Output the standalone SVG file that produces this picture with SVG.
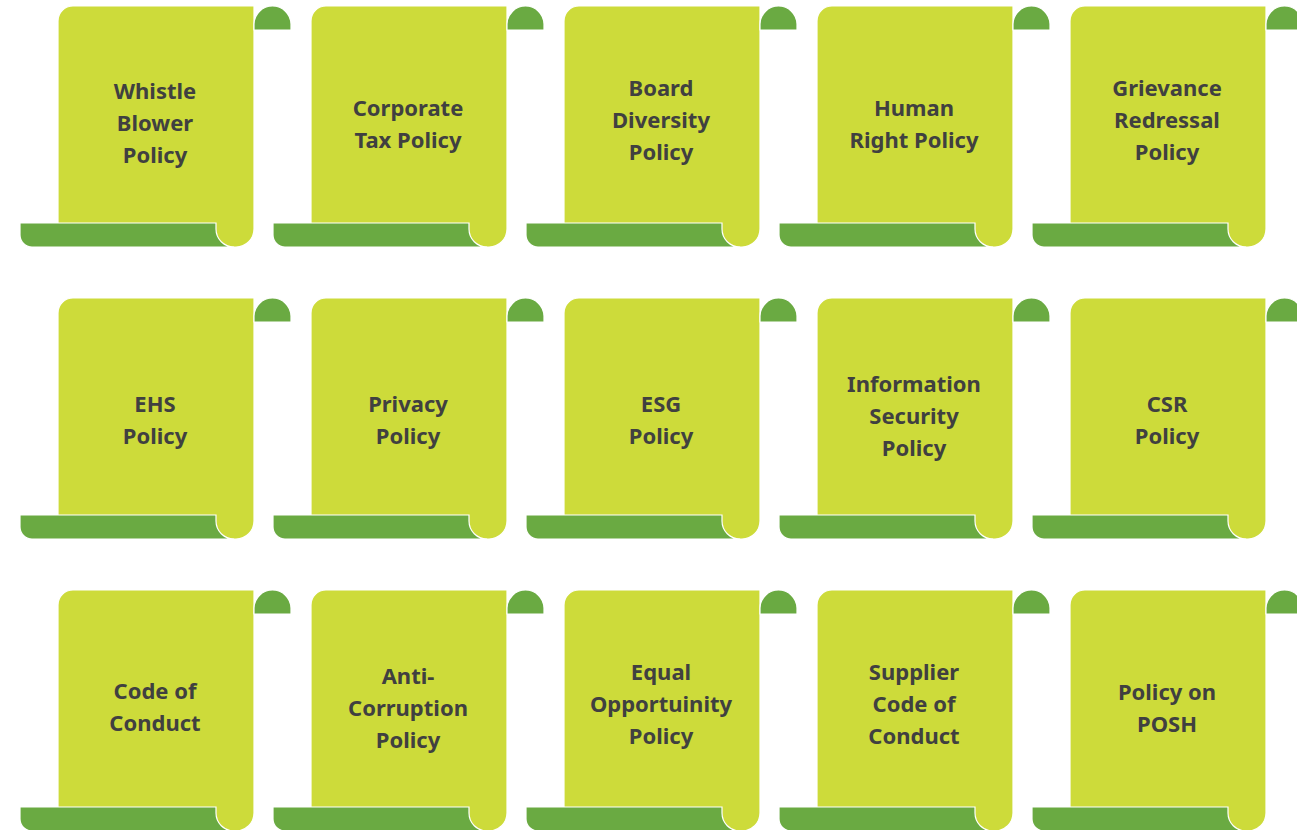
<svg xmlns="http://www.w3.org/2000/svg" xmlns:xlink="http://www.w3.org/1999/xlink" width="1297" height="830" viewBox="0 0 1297 830">
  <style>
    .body { fill: #CDDB3A; stroke: #ffffff; stroke-width: 1.2; }
    .roll { fill: #6AAA42; stroke: #ffffff; stroke-width: 1.2; }
    .lbl { font-family: "Noto Sans", "DejaVu Sans", sans-serif; font-weight: bold; font-size: 22px; fill: #404040; text-anchor: middle; }
  </style>
  <defs>
    <!-- one scroll, local origin at the top-left of the sheet -->
    <g id="scroll">
      <path class="body" d="M15,0 H196 V223 A18,18 0 0 1 178,241 H0 V15 A15,15 0 0 1 15,0 Z"/>
      <path class="roll" d="M196,24 V18 A18.5,18.5 0 0 1 214.5,0 A18.5,18.5 0 0 1 233,18 V24 Z"/>
      <path class="roll" d="M-38,217 H158 V223 A18,18 0 0 0 176,241 H-26 A12,12 0 0 1 -38,229 Z"/>
    </g>
  </defs>

  <!-- row 1 -->
  <g id="whistle-blower">
    <use xlink:href="#scroll" x="58" y="6"/>
    <text class="lbl" x="155" y="99">Whistle</text>
    <text class="lbl" x="155" y="131">Blower</text>
    <text class="lbl" x="155" y="163">Policy</text>
  </g>
  <g id="corporate-tax">
    <use xlink:href="#scroll" x="311" y="6"/>
    <text class="lbl" x="408" y="116">Corporate</text>
    <text class="lbl" x="408" y="148">Tax Policy</text>
  </g>
  <g id="board-diversity">
    <use xlink:href="#scroll" x="564" y="6"/>
    <text class="lbl" x="661" y="96">Board</text>
    <text class="lbl" x="661" y="128">Diversity</text>
    <text class="lbl" x="661" y="160">Policy</text>
  </g>
  <g id="human-right">
    <use xlink:href="#scroll" x="817" y="6"/>
    <text class="lbl" x="914" y="116">Human</text>
    <text class="lbl" x="914" y="148">Right Policy</text>
  </g>
  <g id="grievance">
    <use xlink:href="#scroll" x="1070" y="6"/>
    <text class="lbl" x="1167" y="96">Grievance</text>
    <text class="lbl" x="1167" y="128">Redressal</text>
    <text class="lbl" x="1167" y="160">Policy</text>
  </g>

  <!-- row 2 -->
  <g id="ehs">
    <use xlink:href="#scroll" x="58" y="298"/>
    <text class="lbl" x="155" y="412">EHS</text>
    <text class="lbl" x="155" y="444">Policy</text>
  </g>
  <g id="privacy">
    <use xlink:href="#scroll" x="311" y="298"/>
    <text class="lbl" x="408" y="412">Privacy</text>
    <text class="lbl" x="408" y="444">Policy</text>
  </g>
  <g id="esg">
    <use xlink:href="#scroll" x="564" y="298"/>
    <text class="lbl" x="661" y="412">ESG</text>
    <text class="lbl" x="661" y="444">Policy</text>
  </g>
  <g id="information-security">
    <use xlink:href="#scroll" x="817" y="298"/>
    <text class="lbl" x="914" y="392">Information</text>
    <text class="lbl" x="914" y="424">Security</text>
    <text class="lbl" x="914" y="456">Policy</text>
  </g>
  <g id="csr">
    <use xlink:href="#scroll" x="1070" y="298"/>
    <text class="lbl" x="1167" y="412">CSR</text>
    <text class="lbl" x="1167" y="444">Policy</text>
  </g>

  <!-- row 3 -->
  <g id="code-of-conduct">
    <use xlink:href="#scroll" x="58" y="590"/>
    <text class="lbl" x="155" y="699">Code of</text>
    <text class="lbl" x="155" y="731">Conduct</text>
  </g>
  <g id="anti-corruption">
    <use xlink:href="#scroll" x="311" y="590"/>
    <text class="lbl" x="408" y="684">Anti-</text>
    <text class="lbl" x="408" y="716">Corruption</text>
    <text class="lbl" x="408" y="748">Policy</text>
  </g>
  <g id="equal-opportunity">
    <use xlink:href="#scroll" x="564" y="590"/>
    <text class="lbl" x="661" y="680">Equal</text>
    <text class="lbl" x="661" y="712">Opportuinity</text>
    <text class="lbl" x="661" y="744">Policy</text>
  </g>
  <g id="supplier-code">
    <use xlink:href="#scroll" x="817" y="590"/>
    <text class="lbl" x="914" y="680">Supplier</text>
    <text class="lbl" x="914" y="712">Code of</text>
    <text class="lbl" x="914" y="744">Conduct</text>
  </g>
  <g id="posh">
    <use xlink:href="#scroll" x="1070" y="590"/>
    <text class="lbl" x="1167" y="700">Policy on</text>
    <text class="lbl" x="1167" y="732">POSH</text>
  </g>
</svg>
